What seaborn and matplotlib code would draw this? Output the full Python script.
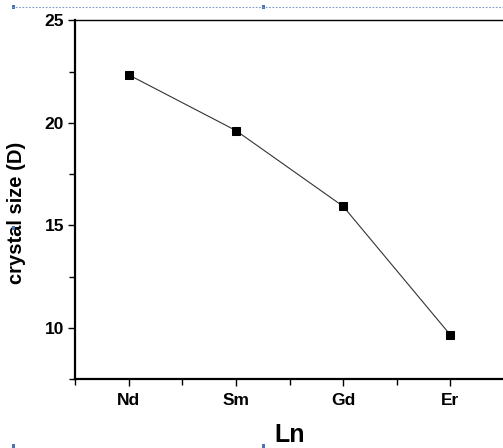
import matplotlib
matplotlib.use("Agg")
import matplotlib.pyplot as plt
from matplotlib.lines import Line2D
from matplotlib.patches import Rectangle
from matplotlib.ticker import MultipleLocator
import seaborn as sns
import pandas as pd

# Lanthanide dopant and crystallite size
lanthanides = ["Nd", "Sm", "Gd", "Er"]
crystal_size = [22.35, 19.63, 15.93, 9.65]

sns.set_theme(style="ticks")
plt.rcParams["font.family"] = ["Liberation Sans", "DejaVu Sans"]
plt.rcParams["text.color"] = "black"
plt.rcParams["axes.labelcolor"] = "black"
plt.rcParams["xtick.color"] = "black"
plt.rcParams["ytick.color"] = "black"

W, H = 503, 448
fig = plt.figure(figsize=(W / 100, H / 100), dpi=100)
ax = fig.add_axes([75 / W, (H - 379) / H, 429 / W, 358.5 / H])

df = pd.DataFrame({"Ln": lanthanides, "size": crystal_size})
sns.lineplot(data=df, x="Ln", y="size", ax=ax, color="#333333", linewidth=0.8,
             marker="s", markersize=5.5, markerfacecolor="black",
             markeredgecolor="black", sort=False)

ax.set_xlim(-0.5, 3.5)
ax.set_ylim(7.5, 25)
ax.yaxis.set_major_locator(MultipleLocator(5))
ax.yaxis.set_minor_locator(MultipleLocator(2.5))
ax.set_xticks(range(len(lanthanides)))
ax.set_xticklabels(lanthanides)
ax.set_xticks([x + 0.5 for x in range(-1, len(lanthanides))], minor=True)

for s in ["left", "bottom"]:
    ax.spines[s].set_linewidth(1.6)
ax.spines["top"].set_linewidth(1.0)
ax.spines["right"].set_linewidth(1.0)
for s in ax.spines.values():
    s.set_color("black")

ax.tick_params(axis="both", which="major", direction="out", length=5, width=1,
               colors="black", labelsize=12.5, pad=3)
ax.tick_params(axis="both", which="minor", direction="out", length=4, width=1,
               color="black")
ax.tick_params(axis="x", which="major", pad=5)
for lbl in ax.get_xticklabels() + ax.get_yticklabels():
    lbl.set_fontweight("bold")
    lbl.set_color("black")

ax.set_xlabel("Ln", fontsize=18, fontweight="bold", labelpad=11, color="black")
ax.set_ylabel("crystal size (D)", fontsize=14.5, fontweight="bold", color="black")
ax.yaxis.set_label_coords(-0.115, 0.462)

# Blue selection frame around the figure
fig.add_artist(Line2D([12 / W, 1.0], [1 - 7 / H, 1 - 7 / H], color="#7a98c8",
                      linewidth=0.8, linestyle=(0, (1.5, 1.5))))
for hx, hy in [(13, 7), (263, 7), (13, 228), (13, 446), (263, 446)]:
    fig.add_artist(Rectangle(((hx - 1.5) / W, 1 - (hy + 2) / H), 3 / W, 4 / H,
                             facecolor="#4a72b8", edgecolor="none"))

fig.savefig("out.png", dpi=100)
